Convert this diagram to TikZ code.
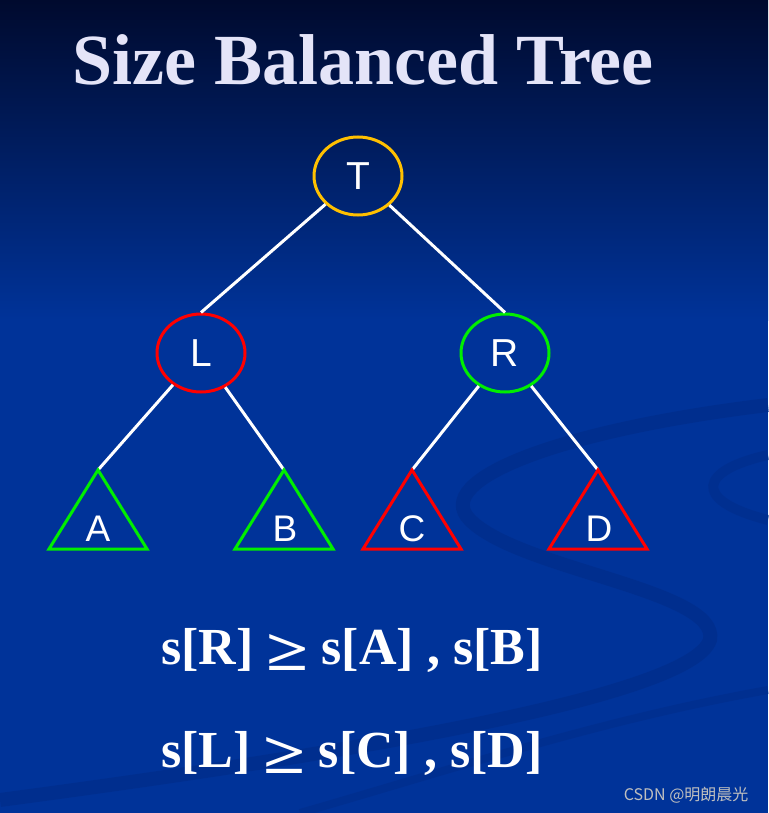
\documentclass[tikz,border=0pt]{standalone}
\usepackage{fontspec}
\usepackage{graphicx}
\setmainfont{Liberation Serif}
\newfontfamily\lettfont{Liberation Sans}
\newfontfamily\cjk{Noto Sans CJK SC}
\usetikzlibrary{positioning,shapes.geometric}

\definecolor{bgtop}{HTML}{000A2E}
\definecolor{bgmid}{HTML}{003399}
\definecolor{swirl}{HTML}{002C88}
\definecolor{titlecol}{HTML}{E4E4F8}
\definecolor{sbtgold}{HTML}{FFC000}
\definecolor{sbtred}{HTML}{FF0000}
\definecolor{sbtgreen}{HTML}{00EE00}

\newcommand{\biggeq}{\raisebox{-6pt}{\resizebox{42pt}{36pt}{≥}}}

\tikzset{
  treenode/.style={ellipse, draw, line width=3pt, minimum width=88, minimum height=78,
    inner sep=0pt, text=white, font=\lettfont\fontsize{39}{40}\selectfont},
  subtree/.style={text=white, font=\lettfont\fontsize{37}{40}\selectfont},
  edge/.style={white, line width=3pt},
  rule/.style={text=white, font=\bfseries\fontsize{52}{56}\selectfont, anchor=base}
}

\begin{document}
\begin{tikzpicture}[x=1pt, y=-1pt]
\useasboundingbox (0,0) rectangle (768,813);
% background
\shade[top color=bgtop, bottom color=bgmid] (0,0) rectangle (768,320);
\fill[bgmid] (0,319) rectangle (768,813);
\draw[swirl, line width=14pt, opacity=0.6] (768,405) .. controls (560,430) and (430,480) .. (470,520)
  .. controls (520,570) and (720,590) .. (710,640) .. controls (690,700) and (300,760) .. (0,800);
\draw[swirl, line width=10pt, opacity=0.5] (768,455) .. controls (700,470) and (690,500) .. (768,520);
\draw[swirl, line width=8pt, opacity=0.5] (768,690) .. controls (600,720) and (450,770) .. (300,813);

\node[anchor=base, text=titlecol, font=\bfseries\fontsize{72}{76}\selectfont] (title) at (363,85) {Size Balanced Tree};

% tree
\node[treenode, draw=sbtgold] (T) at (358,176) {T};
\node[treenode, draw=sbtred] (L) at (201,353) {L};
\node[treenode, draw=sbtgreen] (R) at (505,353) {R};

\coordinate (a) at (98,470);
\coordinate (b) at (284,470);
\coordinate (c) at (412,470);
\coordinate (d) at (598,470);

\draw[edge] (T) -- (L.north);
\draw[edge] (T) -- (R.north);
\draw[edge] (L) -- (a);
\draw[edge] (L) -- (b);
\draw[edge] (R) -- (c);
\draw[edge] (R) -- (d);

\draw[sbtgreen, line width=3pt] (a) -- ++(49,79) -- ++(-98,0) -- cycle;
\draw[sbtgreen, line width=3pt] (b) -- ++(49,79) -- ++(-98,0) -- cycle;
\draw[sbtred, line width=3pt] (c) -- ++(49,79) -- ++(-98,0) -- cycle;
\draw[sbtred, line width=3pt] (d) -- ++(49,79) -- ++(-98,0) -- cycle;

\node[subtree] (A) at (98,529) {A};
\node[subtree] (B) at (285,529) {B};
\node[subtree] (C) at (412,529) {C};
\node[subtree] (D) at (599,529) {D};

% conditions
\node[rule] (rule1) at (352,664) {s[R] \biggeq{} s[A] , s[B]};
\node[rule] (rule2) at (352,767) {s[L] \biggeq{} s[C] , s[D]};

\node[text=black!25, font=\cjk\fontsize{16}{18}\selectfont, anchor=east] (mark) at (752,795) {CSDN @明朗晨光};
\end{tikzpicture}
\end{document}
